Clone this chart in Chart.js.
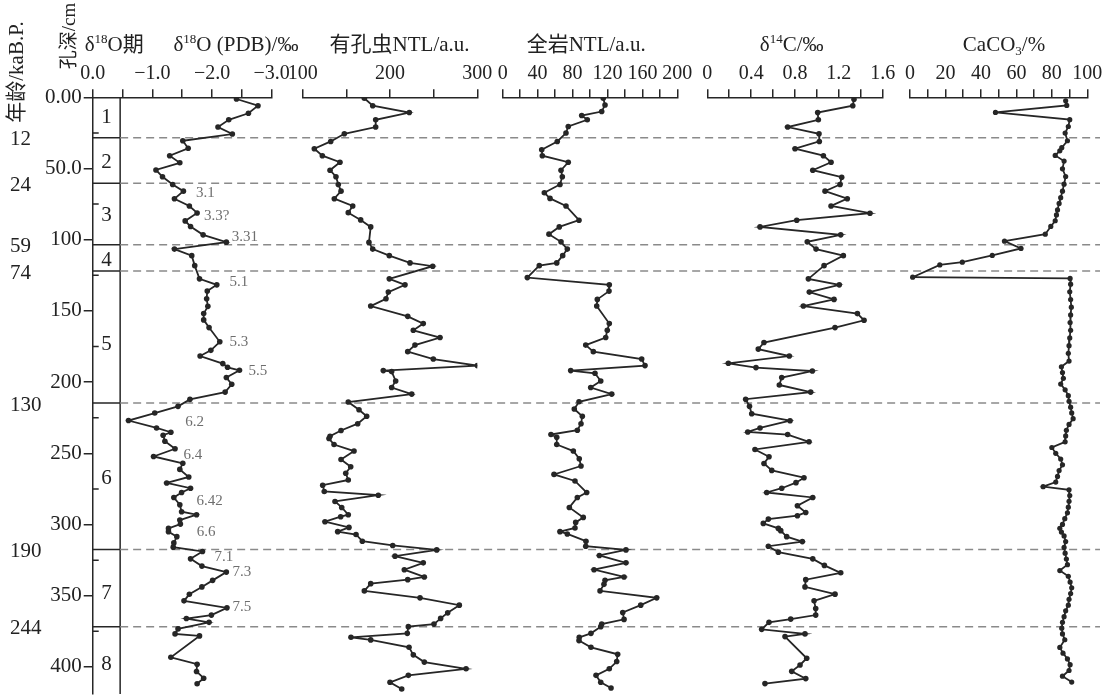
<!DOCTYPE html>
<html>
<head>
<meta charset="utf-8">
<script src="https://cdn.jsdelivr.net/npm/chart.js@4.4.0/dist/chart.umd.min.js"></script>
<style>
  html, body { margin: 0; padding: 0; background: #fff; }
  #wrap { position: relative; width: 1103px; height: 698px; }
</style>
</head>
<body>
<div id="wrap"><canvas id="coreChart"></canvas></div>
<script>
// ---- data (depth in cm) ----
var o18Depth = [1.2, 5.9, 11.2, 15.8, 20.9, 25.8, 30.5, 35.8, 41, 46, 51, 55.8, 61.2, 65.9, 71.2, 76.3, 81.2, 86.8, 90.7, 96.6, 101.7,
  106.6, 111.2, 118.2, 127.5, 131.7, 136.1, 141.5, 146.8, 151.9, 156.3, 161.7, 171.7, 177.7, 181.7, 187, 189.6, 191.7, 196.8, 201.5, 207, 212.1, 217,
  221.7, 227, 232.2, 235.2, 237.3, 241.5, 246.8, 252.2, 257, 261.3, 266.6, 270.8, 274.5, 277.5, 281, 286.1, 291, 293.1, 296.9, 299.7, 302.7, 305, 308.5, 312.9, 315.9,
  318.9, 324.1, 329.2, 333.4, 339.2, 343.8, 349, 353.6, 358.5, 363.6, 366, 368.7, 373.3, 376.8, 378.2, 393.2, 398.1, 403.2, 407.9, 411.8];
var o18Value = [-2.41, -2.77, -2.61, -2.28, -2.10, -2.34, -1.51, -1.60, -1.29, -1.46, -1.06, -1.17, -1.34, -1.52, -1.37, -1.62, -1.75, -1.55, -1.64, -1.85, -2.24,
  -1.37, -1.66, -1.71, -1.79, -2.08, -1.92, -1.91, -1.93, -1.86, -1.86, -1.95, -2.13, -1.98, -1.80, -2.18, -2.26, -2.46, -2.24, -2.33, -2.22, -1.63, -1.43,
  -1.04, -0.60, -1.07, -1.31, -1.18, -1.21, -1.38, -1.02, -1.51, -1.46, -1.61, -1.24, -1.64, -1.49, -1.36, -1.46, -1.49, -1.74, -1.46, -1.47, -1.27, -1.27, -1.41, -1.36, -1.35,
  -1.84, -1.64, -1.83, -2.24, -2.01, -1.83, -1.62, -1.53, -2.25, -1.99, -1.57, -1.95, -1.43, -1.38, -1.79, -1.31, -1.75, -1.74, -1.86, -1.75];

var foramDepth = [0.7, 5.9, 10.7, 15.8, 20.9, 25.6, 31, 36.1, 41, 45.6, 51.2, 55.8, 61.2, 65.9, 71.2, 76.3, 81, 86.1, 91, 101.9, 106.6, 111.2, 116.3, 118.6,
  127.5, 131.7, 136.8, 141.5, 146.6, 153.8, 158.9, 163.6, 168.7, 174, 178.6, 183.8, 188.4, 191.9, 192.6, 199.2, 203.8, 208.4, 214, 219.4, 224, 229.2, 234, 238,
  239.6, 243.8, 248.4, 254.3, 259.4, 264, 268.7, 272.4, 276.8, 279.4, 283.8, 288, 293.1, 294.5, 298, 302, 305, 307, 311.7, 314.7, 317.8, 322.2, 326.9, 331.7,
  336.8, 338.7, 341.5, 346.6, 351.5, 356.6, 362, 365.9, 369.9, 371.7, 376.4, 379.2, 381, 386.2, 391.5, 396.6, 401.3, 405.9, 410.8, 415.5];
var foramNTL = [170.6, 180.2, 222.1, 183.6, 183.6, 147.7, 132.1, 113.3, 122.5, 142.7, 131.3, 138.1, 140.8, 143.9, 136.2, 157.3, 152.2, 166.4, 177.9, 175.9, 180.2, 199.2, 222.9, 248.9,
  199.2, 217.2, 198.1, 195.4, 177.9, 220.3, 238.1, 226.7, 257.3, 228.6, 220.3, 249.6, 300, 192.3, 201.9, 206.5, 201.9, 224.9, 152.2, 164.5, 173.3, 163, 143.9, 131.3,
  130.1, 135.9, 158.8, 143.9, 155, 149.3, 152.2, 122.9, 124.7, 186.6, 137, 144.7, 152.2, 143.5, 125.5, 153, 140.1, 161.1, 168.3, 203.1, 253.5, 205.7, 238.1, 216.4,
  239.3, 220.3, 177.9, 170.6, 234.4, 279.4, 266.1, 258, 250.4, 221, 219.8, 155.3, 177.9, 221.8, 226.7, 239.3, 287.1, 221, 200, 213.4];

var bulkDepth = [0.7, 5.4, 10, 12.8, 15.8, 20.5, 25.1, 31, 36.8, 41, 45.6, 51.2, 55.8, 61.2, 67, 71, 76.3, 86.3, 91, 96.1, 101.5, 106.6, 111.2, 116.3, 118.2,
  126.6, 131.7, 136.1, 141.9, 146.6, 158.9, 163.6, 168.7, 174, 178.6, 183.8, 188.4, 191.9, 193.8, 199.2, 203.8, 208.4, 213.8, 218.9, 224, 229.2, 233.8, 236.8,
  238.7, 243.8, 248.4, 253.8, 258.9, 264.8, 269.4, 277.5, 281, 288, 295, 298.5, 302.4, 305, 306.6, 311.7, 315.2, 317.8, 321.7, 326.9, 331.7, 336.8, 339.2, 342,
  346.6, 351.5, 356.6, 361.8, 366.6, 369.9, 371.7, 376.4, 379.2, 381.5, 386.2, 391.1, 396.2, 401.3, 405.9, 410.8, 414.8];
var bulkNTL = [115.2, 117.2, 113.4, 90.5, 96.9, 75.1, 72.5, 62.5, 44.7, 45.4, 75.1, 66.8, 68.3, 65.6, 47.7, 54.2, 72.5, 87.4, 64.8, 53, 66.8, 74, 68.7, 61.9, 41.9,
  28.2, 122.1, 121.8, 108.4, 107.7, 122.1, 119.8, 118, 95.1, 103.8, 159.2, 163, 77.9, 105.7, 112.3, 100.8, 124.9, 87.4, 82, 91.2, 89.7, 85.5, 55.3,
  61.9, 61.9, 80.9, 87.7, 89.7, 58.8, 82.8, 96.2, 85.5, 76.3, 92.3, 83.6, 82.8, 65.6, 74, 95.4, 95.1, 141.2, 110.7, 141.2, 104.6, 139, 117.2, 116,
  111.5, 176.4, 158.1, 137.5, 139, 113.4, 112.3, 101.1, 87.7, 87.4, 101.1, 131.7, 130.6, 122.1, 106.9, 112.3, 124.1];

var c14Depth = [1.4, 5.9, 10.7, 15.8, 20.9, 25.6, 31, 36.1, 41, 45.6, 51.2, 56.1, 61.2, 65.9, 71.2, 76.3, 81.4, 86.3, 91, 96.6, 101.5, 106.6, 111.2, 118.2,
  127.5, 131.7, 136.8, 141.9, 146.6, 151.9, 156.6, 161.7, 172.2, 176.8, 181.7, 186.8, 189.8, 192.2, 196.8, 202, 207, 212, 217, 222.2, 227.1, 232.2, 235,
  236.8, 241.9, 247.3, 252.4, 257.1, 262, 267.1, 270.6, 274.5, 277.5, 281, 286.8, 291.5, 293.8, 296.2, 299.2, 302.7, 304.3, 308.5, 312, 315.2, 319.4, 324.1,
  328.7, 333.9, 338.7, 343.8, 348.9, 353.6, 359, 363.6, 366.4, 368.7, 373.6, 376.8, 378.7, 393.9, 398.6, 403.1, 408.2, 411.7];
var c14Value = [1.338, 1.327, 1.007, 1.013, 0.733, 1.019, 1.022, 0.800, 1.059, 1.129, 0.962, 1.226, 1.211, 1.074, 1.277, 1.129, 1.484, 0.816, 0.481, 1.217, 0.912, 0.992, 1.241, 1.065,
  0.922, 1.204, 0.931, 1.156, 0.876, 1.369, 1.430, 1.165, 0.517, 0.465, 0.748, 0.192, 0.444, 0.958, 0.679, 0.657, 0.943, 0.350, 0.385, 0.405, 0.755, 0.481, 0.369,
  0.733, 0.928, 0.435, 0.563, 0.517, 0.588, 0.882, 0.809, 0.679, 0.542, 0.962, 0.822, 0.898, 0.822, 0.557, 0.511, 0.648, 0.670, 0.724, 0.867, 0.557, 0.648, 0.962,
  1.068, 1.217, 0.898, 0.891, 1.165, 0.974, 0.989, 0.989, 0.761, 0.563, 0.496, 0.891, 0.709, 0.907, 0.846, 0.770, 0.898, 0.526];

var caco3Depth = [2.5, 5.7, 10.6, 15.7, 20.5, 25.1, 30.5, 35.4, 37.6, 40.8, 44.8, 50.2, 55.6, 61, 65.9, 70.5, 74.5, 79.1, 82.6, 86.7, 90.7, 96.1, 101, 106.1,
  111, 115.8, 117.7, 126.3, 127.2, 131.2, 136.6, 142, 147.4, 152.8, 158.2, 163.6, 169, 174.4, 179.8, 185.2, 189.2, 193.3, 197.3, 201.4, 205.4, 209.5, 213.5,
  217.6, 221.6, 225.7, 229.7, 233.8, 237.8, 241.9, 245.9, 250, 254, 258.1, 262.1, 266.2, 270.2, 273.4, 275.6, 279.7, 283.7, 287.8, 291.8, 295.9, 299.9, 302.6,
  305.3, 308, 312, 316.1, 320.1, 324.2, 328.2, 332.3, 336.3, 340.4, 344.4, 348.5, 352.5, 356.6, 360.6, 364.7, 368.7, 372.8, 376.8, 380.9, 386.3, 390.3, 394.4,
  398.4, 402.5, 406.5, 410.6];
var caco3Value = [87.8, 88.4, 48.2, 90.1, 89.3, 87.5, 88.8, 85.6, 84.5, 81.9, 86.9, 86.0, 87.8, 86.9, 86.0, 85.0, 84.1, 83.2, 82.6, 81.9, 79.4, 76.3, 53.3, 62.6,
  46.4, 29.5, 16.8, 1.5, 90.3, 90.6, 90.1, 90.6, 91.0, 90.6, 90.3, 90.6, 90.1, 89.7, 89.3, 89.7, 85.4, 86.0, 86.5, 85.0, 87.5, 89.3, 89.7,
  90.6, 91.2, 92.0, 89.7, 88.2, 87.8, 87.5, 80.0, 82.2, 85.0, 86.0, 84.1, 83.2, 82.2, 75.1, 89.7, 90.1, 89.7, 89.3, 88.8, 87.3, 86.0, 84.5,
  85.4, 86.9, 87.8, 86.9, 87.5, 88.2, 88.8, 84.5, 89.3, 90.3, 91.2, 90.6, 89.7, 89.3, 87.8, 86.9, 86.0, 85.6, 86.0, 87.3, 84.5, 86.3, 88.8,
  90.3, 89.7, 86.0, 91.2];

// stage boundaries (depth) and the ages written beside them
var stageBounds = [28.4, 60.3, 103.5, 122, 214.7, 317.5, 371.7];
var boundAges = ['12', '24', '59', '74', '130', '190', '244'];
var stageNames = ['1', '2', '3', '4', '5', '6', '7', '8'];
var stageMid = [14.5, 45.6, 83.3, 114.7, 173.6, 267.8, 348.5, 398.5];
// labelled isotope events on the d18O curve: [name, d18O, depth]
var eventNames = ['3.1', '3.3?', '3.31', '5.1', '5.3', '5.5', '6.2', '6.4', '6.42', '6.6', '7.1', '7.3', '7.5'];
var eventO18 = [-1.89, -2.08, -2.55, -2.45, -2.45, -2.77, -1.71, -1.68, -1.96, -1.90, -2.20, -2.50, -2.50];
var eventDepth = [67.5, 83.3, 98.4, 129.8, 171.7, 192.2, 228, 251.2, 283.3, 305.4, 322.9, 333.4, 358.3];

// ---- look ----
var INK = '#262626';
var FONT = "'Liberation Serif', 'Noto Sans CJK SC', serif";
var TOP_H = 97.3, LEFT_W = 92.7;

function pairs(depths, values) {
  return depths.map(function (d, i) { return { x: values[i], y: d }; });
}

function series(data, axis, r) {
  return {
    data: data, xAxisID: axis, yAxisID: 'y',
    borderColor: INK, borderWidth: 1.8, tension: 0, fill: false,
    pointRadius: r, pointBackgroundColor: INK, pointBorderColor: INK, pointBorderWidth: 0
  };
}

function topScale(min, max, step, width, weight, label, reverse) {
  return {
    type: 'linear', position: 'top', stack: 'panels', stackWeight: width, weight: weight,
    min: min, max: max, reverse: !!reverse,
    border: { color: INK, width: 1.5 },
    grid: { drawOnChartArea: false, color: INK, lineWidth: 1.5, tickLength: 8 },
    ticks: {
      stepSize: step, autoSkip: false, maxRotation: 0, minRotation: 0, padding: 4,
      color: '#222', font: { family: FONT, size: 20 }, callback: label
    },
    afterFit: function (s) { s.height = TOP_H; s.paddingLeft = 0; s.paddingRight = 0; }
  };
}

function gapScale(width, weight) {
  return {
    type: 'linear', position: 'top', stack: 'panels', stackWeight: width, weight: weight, min: 0, max: 1,
    border: { display: false }, grid: { display: false }, ticks: { display: false },
    afterFit: function (s) { s.height = TOP_H; s.paddingLeft = 0; s.paddingRight = 0; }
  };
}

function rich(ctx, parts, cx, base, size) {
  var total = 0;
  parts.forEach(function (p) {
    ctx.font = (p[1] ? size * 0.62 : size) + 'px ' + FONT;
    p.w = ctx.measureText(p[0]).width;
    total += p.w;
  });
  var x = cx - total / 2;
  ctx.textAlign = 'left';
  ctx.textBaseline = 'alphabetic';
  parts.forEach(function (p) {
    ctx.font = (p[1] ? size * 0.62 : size) + 'px ' + FONT;
    var dy = p[1] === 'sup' ? -size * 0.4 : (p[1] === 'sub' ? size * 0.18 : 0);
    ctx.fillText(p[0], x, base + dy);
    x += p.w;
  });
}

var decor = {
  id: 'decor',
  beforeDatasetsDraw: function (chart) {
    var ctx = chart.ctx, y = chart.scales.y, o = chart.scales.xO18;
    var area = chart.chartArea;
    var colX = o.getPixelForValue(-0.46);
    ctx.save();
    ctx.strokeStyle = INK;
    ctx.lineWidth = 1.5;
    ctx.beginPath();
    ctx.moveTo(colX, area.top);
    ctx.lineTo(colX, area.bottom);
    // minor depth ticks, pointing inward
    for (var d = 25; d < 419; d += 50) {
      var py = y.getPixelForValue(d);
      ctx.moveTo(area.left, py);
      ctx.lineTo(area.left + 6, py);
    }
    stageBounds.forEach(function (b) {
      var py = y.getPixelForValue(b);
      ctx.moveTo(area.left, py);
      ctx.lineTo(colX, py);
    });
    ctx.stroke();
    ctx.strokeStyle = '#8a8a8a';
    ctx.setLineDash([8, 5]);
    ctx.beginPath();
    stageBounds.forEach(function (b) {
      var py = y.getPixelForValue(b);
      ctx.moveTo(colX, py);
      ctx.lineTo(chart.width - 3, py);
    });
    ctx.stroke();
    ctx.restore();
  },
  afterDraw: function (chart) {
    var ctx = chart.ctx, y = chart.scales.y, s = chart.scales;
    var area = chart.chartArea;
    var colX = s.xO18.getPixelForValue(-0.46);
    ctx.save();
    ctx.fillStyle = '#222';

    // panel titles
    var base = 51;
    rich(ctx, [['δ'], ['18', 'sup'], ['O期']], s.xO18.getPixelForValue(-0.36), base, 21);
    rich(ctx, [['δ'], ['18', 'sup'], ['O (PDB)/‰']], s.xO18.getPixelForValue(-2.40), base, 21);
    rich(ctx, [['有孔虫NTL/a.u.']], s.xForam.getPixelForValue(211), base, 21);
    rich(ctx, [['全岩NTL/a.u.']], s.xBulk.getPixelForValue(95.6), base, 21);
    rich(ctx, [['δ'], ['14', 'sup'], ['C/‰']], s.xC14.getPixelForValue(0.77), base, 21);
    rich(ctx, [['CaCO'], ['3', 'sub'], ['/%']], s.xCaco3.getPixelForValue(53), base, 21);

    // rotated left titles
    ctx.textAlign = 'center';
    ctx.textBaseline = 'middle';
    [['孔深/cm', 70, 36, 19], ['年龄/kaB.P.', 17, 72, 21]].forEach(function (t) {
      ctx.save();
      ctx.font = t[3] + 'px ' + FONT;
      ctx.translate(t[1], t[2]);
      ctx.rotate(-Math.PI / 2);
      ctx.fillText(t[0], 0, 0);
      ctx.restore();
    });

    // ages at the stage boundaries
    ctx.font = '21px ' + FONT;
    ctx.textAlign = 'left';
    stageBounds.forEach(function (b, i) {
      ctx.fillText(boundAges[i], 10, y.getPixelForValue(b) + 2);
    });

    // stage numbers in the column
    ctx.textAlign = 'center';
    stageNames.forEach(function (n, i) {
      ctx.fillText(n, (area.left + colX) / 2, y.getPixelForValue(stageMid[i]));
    });

    // isotope event labels
    ctx.font = '15px ' + FONT;
    ctx.fillStyle = '#6e6e6e';
    eventNames.forEach(function (n, i) {
      ctx.fillText(n, s.xO18.getPixelForValue(eventO18[i]), y.getPixelForValue(eventDepth[i]));
    });
    ctx.restore();
  }
};

new Chart(document.getElementById('coreChart').getContext('2d'), {
  type: 'line',
  data: {
    datasets: [
      series(pairs(o18Depth, o18Value), 'xO18', 2.8),
      series(pairs(foramDepth, foramNTL), 'xForam', 2.8),
      series(pairs(bulkDepth, bulkNTL), 'xBulk', 2.8),
      series(pairs(c14Depth, c14Value), 'xC14', 2.8),
      series(pairs(caco3Depth, caco3Value), 'xCaco3', 2.6)
    ]
  },
  options: {
    indexAxis: 'y',
    responsive: true,
    maintainAspectRatio: false,
    animation: false,
    layout: { padding: { top: 0, right: 15.7, bottom: 0, left: 0 } },
    plugins: { legend: { display: false }, tooltip: { enabled: false } },
    scales: {
      y: {
        type: 'linear', position: 'left', min: 0, max: 419, reverse: true,
        border: { color: INK, width: 1.5 },
        grid: { drawOnChartArea: false, color: INK, lineWidth: 1.5, tickLength: 9 },
        ticks: {
          stepSize: 50, includeBounds: false, padding: 2, color: '#222',
          font: { family: FONT, size: 21 },
          callback: function (v) { return v === 0 ? '0.00' : (v === 50 ? '50.0' : String(v)); }
        },
        afterFit: function (sc) { sc.width = LEFT_W; sc.paddingTop = 0; sc.paddingBottom = 0; }
      },
      xO18: topScale(-3, 0, 0.5, 179, 9, function (v) {
        if (Math.round(v * 2) % 2 !== 0) return '';
        return v === 0 ? '0.0' : '\u2212' + (-v).toFixed(1);
      }, true),
      gap1: gapScale(31, 8),
      xForam: topScale(100, 300, 50, 174.6, 7, function (v) { return v % 100 === 0 ? String(v) : ''; }),
      gap2: gapScale(25.4, 6),
      xBulk: topScale(0, 200, 20, 174.6, 5, function (v) { return v % 40 === 0 ? String(v) : ''; }),
      gap3: gapScale(30, 4),
      xC14: topScale(0, 1.6, 0.2, 175.4, 3, function (v) {
        var k = Math.round(v * 10);
        if (k % 4 !== 0) return '';
        return k === 0 ? '0' : (k / 10).toFixed(1);
      }),
      gap4: gapScale(27.3, 2),
      xCaco3: topScale(0, 100, 10, 177.3, 1, function (v) { return v % 20 === 0 ? String(v) : ''; })
    }
  },
  plugins: [decor]
});
</script>
</body>
</html>
